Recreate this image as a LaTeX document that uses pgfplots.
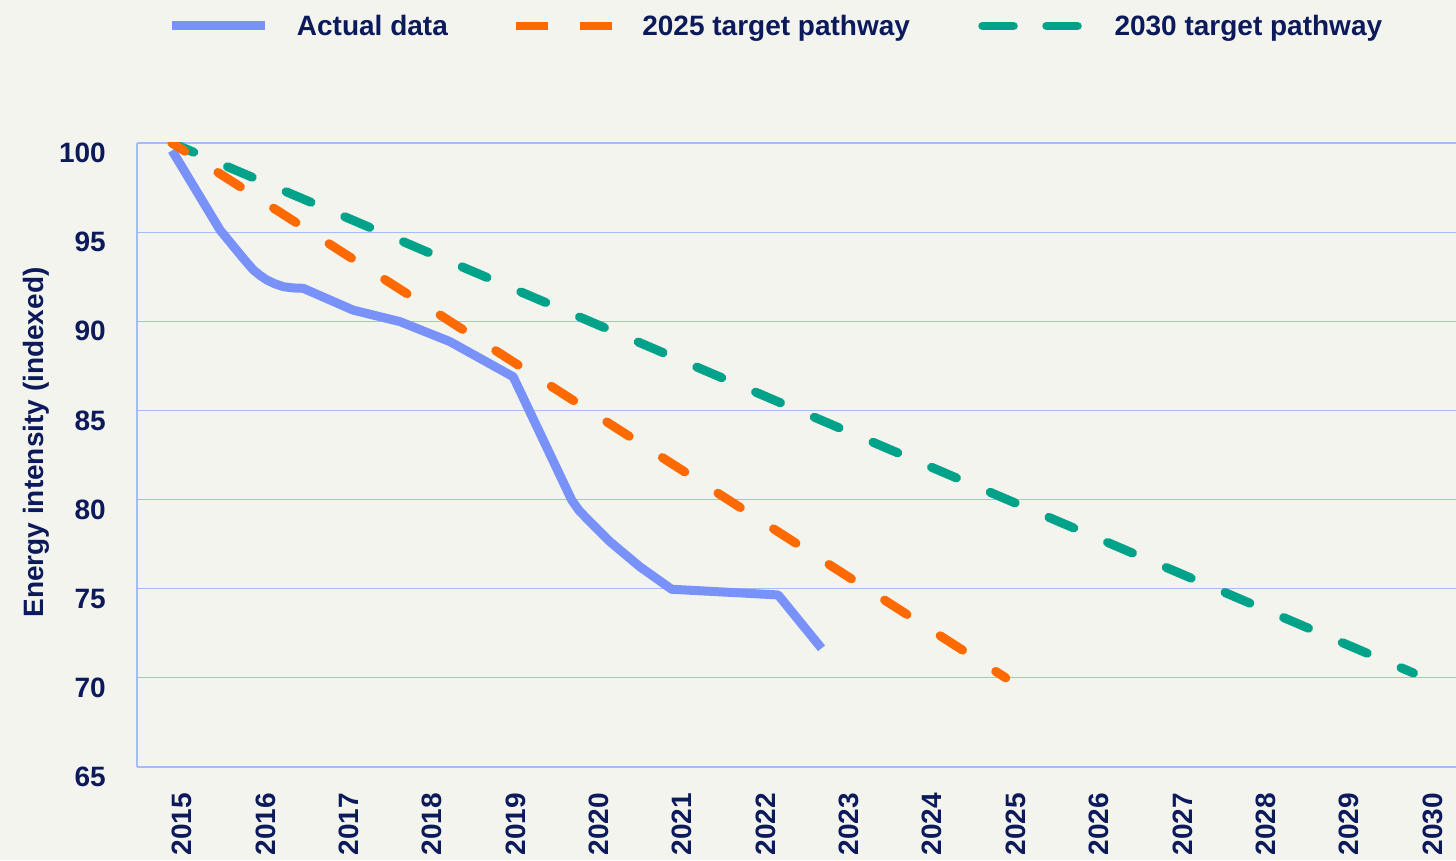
\documentclass[border=0pt]{standalone}
\usepackage{fontspec}
\setmainfont{Liberation Sans}
\usepackage{pgfplots}
\pgfplotsset{compat=1.18}
\definecolor{bg}{RGB}{243,244,238}
\definecolor{navy}{RGB}{12,26,91}
\definecolor{gridblue}{RGB}{165,188,250}
\definecolor{actual}{RGB}{120,146,250}
\definecolor{orangeT}{RGB}{255,106,0}
\definecolor{greenT}{RGB}{0,163,138}
\newcommand{\bigfont}{\fontsize{28}{34}\selectfont\bfseries}
\begin{document}
\begin{tikzpicture}
\fill[bg] (0,0) rectangle (1456pt,860pt);
\begin{axis}[
  at={(137pt,93pt)}, anchor=south west,
  width=1319pt, height=624pt, scale only axis,
  xmin=2014.58, xmax=2030.40, ymin=65, ymax=100,
  axis x line*=bottom, axis y line*=left,
  axis line style={gridblue, line width=1.5pt},
  ytick={65,70,...,100},
  xtick={2015,...,2030},
  major tick length=0pt,
  ymajorgrids, grid style={gridblue, line width=1.2pt},
  /pgf/number format/assume math mode=true,
  /pgf/number format/1000 sep={},
  tick label style={font=\bigfont, text=navy},
  xticklabel style={xshift=10pt, yshift=-26pt, rotate=90, anchor=east, inner sep=0pt},
  yticklabel style={yshift=-10pt, inner sep=0pt, xshift=-31pt},
  ylabel={Energy intensity (indexed)},
  ylabel style={font=\bigfont, text=navy, at={(ticklabel cs:0.52,7pt)}, inner sep=2pt},
  legend columns=3,
  legend style={at={(rel axis cs:0.0233,1.1875)}, anchor=west, draw=none, fill=none,
    font=\bigfont, text=navy, inner sep=0pt,
    nodes={inner sep=0pt},
    /tikz/column 1/.style={column sep=27pt},
    /tikz/column 2/.style={column sep=64pt},
    /tikz/column 3/.style={column sep=26pt},
    /tikz/column 4/.style={column sep=68pt},
    /tikz/column 5/.style={column sep=32.5pt}},
]
\addplot[actual, line width=9pt, line join=round, line cap=butt, forget plot] coordinates {
 (2015.00,99.58) (2015.576,95.12) (2015.855,93.53) (2015.975,92.88) (2016.06,92.56) (2016.136,92.32)
 (2016.235,92.10) (2016.335,91.94) (2016.45,91.87) (2016.574,91.85) (2017.17,90.63) (2017.734,89.98) (2018.333,88.86)
 (2019.092,86.89) (2019.793,79.98) (2019.88,79.40) (2019.972,78.95) (2020.252,77.64) (2020.612,76.23)
 (2020.992,74.97) (2022.27,74.65) (2022.79,71.66)};
\addplot[greenT, line width=9pt, line cap=round, dash pattern=on 27pt off 36.8pt, dash phase=3.5pt, forget plot] coordinates {
 (2015,100) (2029.89,70.27)};
\addplot[orangeT, line width=9pt, line cap=round, dash pattern=on 26.6pt off 39.4pt, dash phase=11.4pt, forget plot] coordinates {
 (2015,100) (2025,70)};
\addlegendimage{legend image code/.code={\draw[actual, line width=9pt, line cap=butt] (0pt,0pt) -- (93pt,0pt);}}
\addlegendentry{Actual data}
\addlegendimage{legend image code/.code={\path[draw=none, fill=none] (0pt,0pt) -- (96pt,0pt);
  \draw[orangeT, line width=8.5pt, line cap=butt] (0pt,0pt) -- (32pt,0pt) (64pt,0pt) -- (96pt,0pt);}}
\addlegendentry{2025 target pathway}
\addlegendimage{legend image code/.code={\path[draw=none, fill=none] (0pt,0pt) -- (104pt,0pt);
  \draw[greenT, line width=8.5pt, line cap=round] (4.5pt,0pt) -- (35.5pt,0pt) (68.5pt,0pt) -- (99.5pt,0pt);}}
\addlegendentry{2030 target pathway}
\end{axis}
\pgfresetboundingbox
\path[use as bounding box] (0,0) rectangle (1456pt,860pt);
\end{tikzpicture}
\end{document}
